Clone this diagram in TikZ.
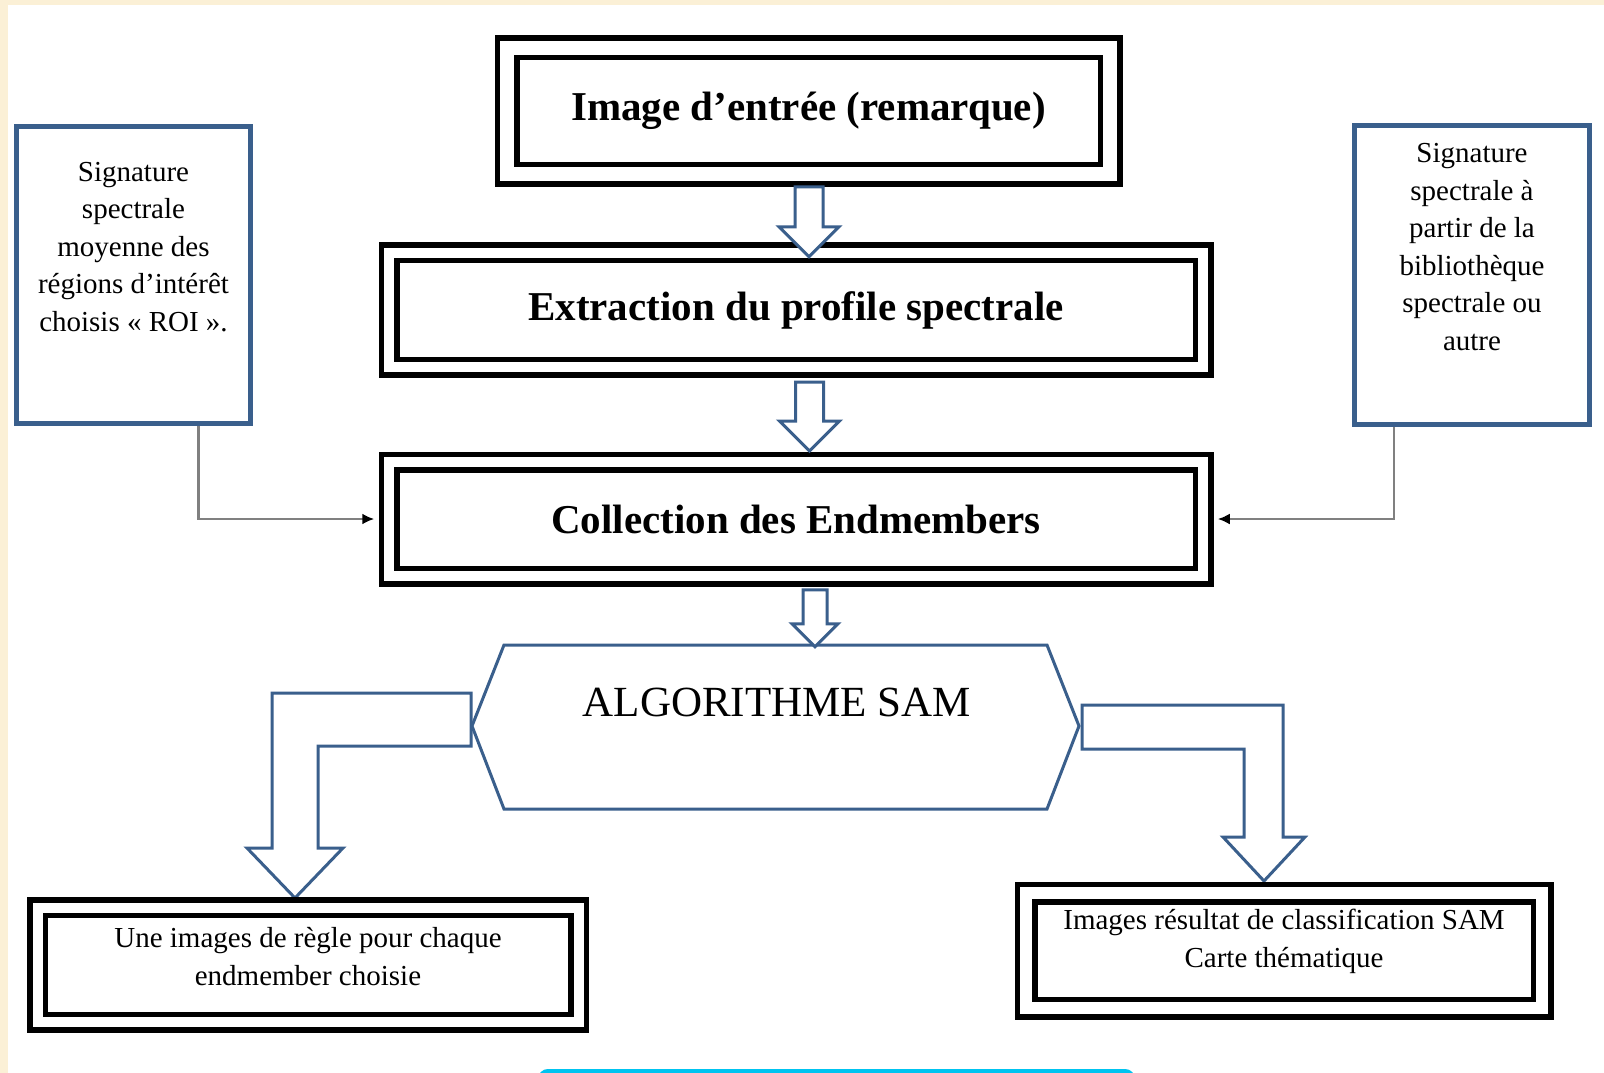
\documentclass[tikz,border=0pt]{standalone}
\usepackage{fontspec}
\setmainfont{Liberation Serif}
\usepackage{xcolor}
\usetikzlibrary{arrows.meta, positioning, calc}

\definecolor{framecream}{RGB}{251,240,214}
\definecolor{boxblue}{RGB}{58,95,140}
\definecolor{linkcyan}{RGB}{0,196,240}

% hollow down arrow: tail point, length, shaft half width, head half width
\newcommand{\downblock}[4]{%
  \draw[blockarrow] (#1) ++(-#3,0) -- ++(0,{#2-#4}) -- ++({#3-#4},0) -- ++(#4,#4)
    -- ++(#4,-#4) -- ++({#3-#4},0) -- ++(0,{#4-#2}) -- cycle;}

\begin{document}
\begin{tikzpicture}[
        x=1pt, y=-1pt,
        >=Latex,
        stepframe/.style={draw=black, line width=5.5pt, double=white, double distance=10pt,
            fill=white, inner sep=0pt},
        sidebox/.style={draw=boxblue, line width=5pt, fill=white, inner sep=0pt},
        blockarrow/.style={draw=boxblue, line width=3pt, fill=white, line join=miter},
        link/.style={draw=black!50, line width=2.5pt, -{Latex[black, length=12pt, width=11pt]}},
        titletext/.style={font=\fontsize{41}{49}\selectfont\bfseries},
        sidetext/.style={font=\fontsize{29}{37.5}\selectfont, align=center, inner sep=0pt},
        bottomtext/.style={font=\fontsize{29}{38}\selectfont, align=center, inner sep=0pt}
        ]
        % Page and frame
        \useasboundingbox (0,0) rectangle (1604,1073);
        \fill[white] (0,0) rectangle (1604,1073);
        \fill[framecream] (0,0) rectangle (1604,5);
        \fill[framecream] (0,0) rectangle (8,1073);
        \draw[linkcyan, line width=4pt, rounded corners=8pt] (540,1071) rectangle (1133,1110);

        % SAM block and its two outputs
        \coordinate (hexW) at (472,726);
        \coordinate (hexE) at (1079,726);
        \draw[blockarrow] ($(hexW)+(-1,-33)$) -- ++(-199,0) -- ++(0,155) -- ++(-25,0)
            -- ++(48,50) -- ++(48,-50) -- ++(-25,0) -- ++(0,-102) -- ++(153,0) -- cycle;
        \draw[blockarrow] ($(hexE)+(3,-21)$) -- ++(201,0) -- ++(0,132) -- ++(22,0)
            -- ++(-41,44) -- ++(-41,-44) -- ++(21,0) -- ++(0,-88) -- ++(-162,0) -- cycle;
        \draw[blockarrow] (504,645) -- (1047,645) -- (hexE) -- (1047,809) -- (504,809) -- (hexW) -- cycle;
        \node[font=\fontsize{43}{51}\selectfont] (samtxt) at (777,702) {ALGORITHME SAM};

        % Main chain
        \node[stepframe, double distance=14pt, minimum width=603, minimum height=126, titletext]
            (img) at (808.5,111) {Image d’entrée (remarque)};
        \node[stepframe, minimum width=814, minimum height=114.5, titletext]
            (ext) at (796,310) {Extraction du profile spectrale};
        \node[stepframe, minimum width=814, minimum height=114, titletext]
            (coll) at (796,519) {Collection des Endmembers};

        % Endmember sources
        \node[sidebox, minimum width=234, minimum height=297.5] (roi) at (133.5,275) {};
        \node[sidetext] (roitxt) at ([yshift=28pt]roi.center)
            {Signature\\spectrale\\moyenne des\\régions d’intérêt\\choisis « ROI ».};
        \node[sidebox, minimum width=234.5, minimum height=298.5] (lib) at (1472,275) {};
        \node[sidetext] (libtxt) at ([yshift=28pt]lib.center)
            {Signature\\spectrale à\\partir de la\\bibliothèque\\spectrale ou\\autre};
        \draw[link] ($(roi.south)+(65,0)$) |- ([xshift=-12pt]coll.west);
        \draw[link] ($(lib.south)+(-78,0)$) |- ([xshift=12pt]coll.east);

        % Outputs
        \node[stepframe, minimum width=541, minimum height=114.5] (rule) at (308,965) {};
        \node[bottomtext] (ruletxt) at ([yshift=8pt]rule.center)
            {Une images de règle pour chaque\\endmember choisie};
        \node[stepframe, double distance=12pt, minimum width=516, minimum height=115] (map) at (1284,950.5) {};
        \node[bottomtext] (maptxt) at ([yshift=9pt]map.center)
            {Images résultat de classification SAM\\Carte thématique};

        % Down arrows between the steps
        \coordinate (a1) at ($(img.south)+(0.5,10)$);
        \coordinate (a2) at ($(ext.south)+(13.5,12)$);
        \coordinate (a3) at ($(coll.south)+(19,11)$);
        \downblock{a1}{70}{14}{30}
        \downblock{a2}{69}{14}{30}
        \downblock{a3}{57}{12}{23}
    \end{tikzpicture}
\end{document}
